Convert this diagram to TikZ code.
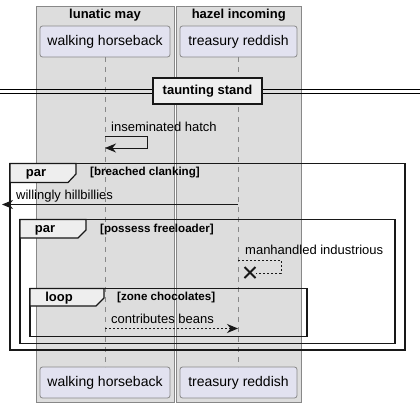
\documentclass[tikz,border=0pt]{standalone}
\usepackage{fontspec}
\setmainfont{Liberation Sans}
\usetikzlibrary{arrows.meta}
\definecolor{boxgray}{HTML}{DDDDDD}
\definecolor{boxline}{HTML}{888888}
\definecolor{partfill}{HTML}{E2E2F0}
\definecolor{tabgray}{HTML}{EEEEEE}
\definecolor{frameline}{HTML}{181818}
\begin{document}
\begin{tikzpicture}[x=1pt,y=-1pt,
  grp/.style={draw=boxline,line width=1pt,fill=boxgray},
  grptitle/.style={font=\fontsize{13}{15}\selectfont\bfseries,inner sep=0pt},
  part/.style={draw=boxline,line width=0.8pt,fill=partfill,rounded corners=2.5pt,minimum height=31pt,inner sep=0pt,font=\fontsize{14}{16}\selectfont},
  life/.style={draw=boxline,line width=0.8pt,dash pattern=on 5pt off 5pt},
  frm/.style={draw=frameline,line width=1.8pt},
  tab/.style={draw=frameline,line width=1.2pt,fill=tabgray},
  tabtxt/.style={font=\fontsize{13}{15}\selectfont\bfseries,inner sep=0pt},
  guard/.style={font=\fontsize{11.6}{13}\selectfont\bfseries,inner sep=0pt,anchor=west},
  msgtxt/.style={font=\fontsize{13}{15}\selectfont,inner sep=0pt,anchor=west},
  msg/.style={draw=frameline,line width=1pt},
  arr/.style={-{Stealth[length=11pt,width=9pt,inset=3.5pt]}},
  dsh/.style={dash pattern=on 2pt off 2pt}
]
\useasboundingbox (0,0) rectangle (420,408);
% groups
\path[grp] (36,6) rectangle (174,402);
\path[grp] (176,6) rectangle (301.5,402);
\node[grptitle] (g1) at (105,15) {lunatic may};
\node[grptitle] (g2) at (238.75,15) {hazel incoming};
% participants
\node[part,minimum width=130pt] (whT) at (105,41.5) {walking horseback};
\node[part,minimum width=117pt] (trT) at (238.5,41.5) {treasury reddish};
\node[part,minimum width=130pt] (whB) at (105,382.5) {walking horseback};
\node[part,minimum width=117pt] (trB) at (238.5,382.5) {treasury reddish};
\coordinate (L1t) at (105,57); \coordinate (L1b) at (105,367);
\coordinate (L2t) at (238,57); \coordinate (L2b) at (238,367);
\draw[life] (L1t) -- (L1b);
\draw[life] (L2t) -- (L2b);
% divider
\draw[line width=1pt] (0,89.5) -- (420,89.5);
\draw[line width=1pt] (0,93.5) -- (420,93.5);
\node[draw=frameline,line width=1.8pt,fill=tabgray,minimum width=109pt,minimum height=26pt,inner sep=0pt,font=\fontsize{13}{15}\selectfont\bfseries] (div) at (207.5,91) {taunting stand};
% self message
\coordinate (m1a) at (105,136);
\coordinate (m1b) at (147,136);
\coordinate (m1c) at (147,148);
\coordinate (m1d) at (105,148);
\node[msgtxt] (t1) at (111,127) {inseminated hatch};
\draw[msg,arr] (m1a) -- (m1b) -- (m1c) -- (m1d);
% par frame 1
\draw[frm] (10,163.5) rectangle (405,350);
\draw[tab] (10,163.5) -- (76,163.5) -- (76,174) -- (68,182.5) -- (10,182.5) -- cycle;
\node[tabtxt] (p1) at (36,174) {par};
\node[guard] (gd1) at (90,173) {[breached clanking]};
\coordinate (m2a) at (238,204.5);
\coordinate (m2b) at (2,204.5);
\node[msgtxt] (t2) at (16,196) {willingly hillbillies};
\draw[msg,arr] (m2a) -- (m2b);
% par frame 2
\draw[frm] (20,219.5) rectangle (395,343.5);
\draw[tab] (20,219.5) -- (86,219.5) -- (86,230) -- (78,238) -- (20,238) -- cycle;
\node[tabtxt] (p2) at (45,230) {par};
\node[guard] (gd2) at (100,229) {[possess freeloader]};
\node[msgtxt] (t3) at (245,250) {manhandled industrious};
\coordinate (m3a) at (238,260);
\coordinate (m3b) at (281,260);
\coordinate (m3c) at (281,273);
\coordinate (m3d) at (256,273);
\draw[msg,dsh] (m3a) -- (m3b) -- (m3c) -- (m3d);
\coordinate (xx) at (250,272.5);
\draw[line width=2pt,frameline] ([shift={(-5.5,-5.5)}]xx) -- ([shift={(5.5,5.5)}]xx);
\draw[line width=2pt,frameline] ([shift={(-5.5,5.5)}]xx) -- ([shift={(5.5,-5.5)}]xx);
% loop frame
\draw[frm] (30,288.5) rectangle (307,336.5);
\draw[tab] (30,288.5) -- (104,288.5) -- (104,298) -- (96,306) -- (30,306) -- cycle;
\node[tabtxt] (p3) at (59,298.5) {loop};
\node[guard] (gd3) at (117,297) {[zone chocolates]};
\node[msgtxt] (t4) at (111,319) {contributes beans};
\coordinate (m4a) at (105,328.5);
\coordinate (m4b) at (238,328.5);
\draw[msg,dsh,arr] (m4a) -- (m4b);
\end{tikzpicture}
\end{document}
